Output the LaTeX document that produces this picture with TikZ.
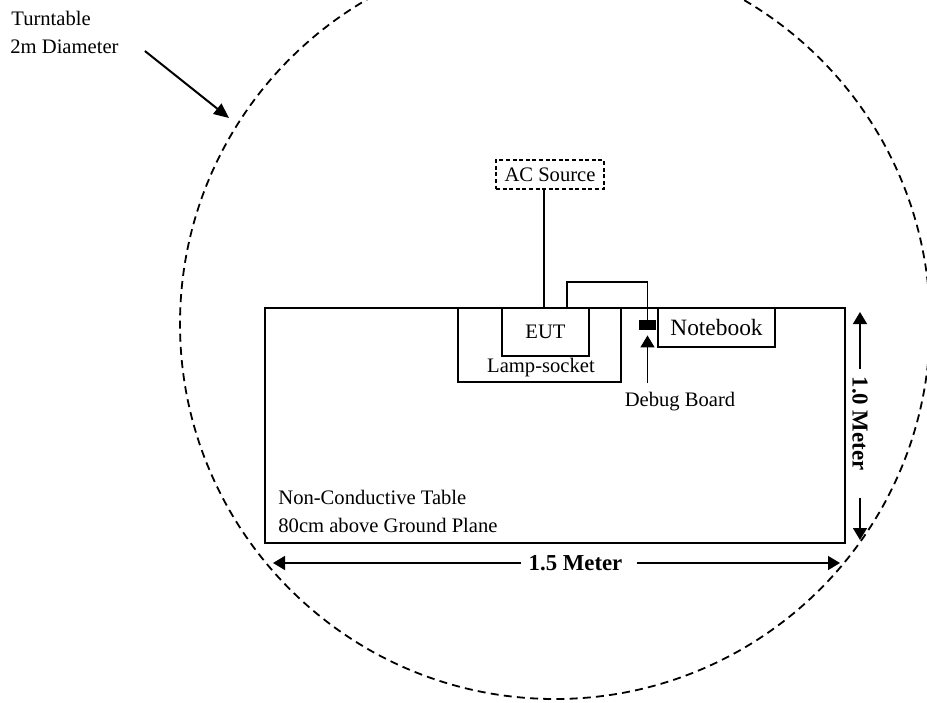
\documentclass[tikz,border=0pt]{standalone}
\usepackage{fontspec}
\setmainfont{Liberation Serif}
\usetikzlibrary{arrows.meta,positioning}
\tikzset{
  >={Triangle[length=6pt,width=7pt]},
  unit/.style={draw,line width=0.65pt,inner sep=0pt,font=\fontsize{10.3}{12}\selectfont},
  tag/.style={inner sep=0pt,font=\fontsize{10.3}{14}\selectfont},
  wire/.style={line width=0.65pt},
  dimline/.style={->,line width=0.75pt},
  dimtag/.style={inner sep=0pt,inner xsep=3.5pt,font=\fontsize{11.4}{13}\selectfont\bfseries},
  rim/.style={line width=0.9pt,dash pattern=on 4pt off 2.6pt},
}

\begin{document}
\begin{tikzpicture}[x=0.5pt,y=-0.5pt]
  \useasboundingbox (0,0) rectangle (927,702);
  \clip (0,0) rectangle (927,702);
  % turntable
  \draw[rim] (555,324) circle[radius=187.5pt];
  \node[tag,anchor=west] (turn) at (11,18) {Turntable};
  \node[tag,anchor=west] (diam) at (10,47) {2m Diameter};
  \coordinate (rimpt) at (229,118);
  \draw[->,line width=1pt,>={Triangle[length=7.5pt,width=6.5pt]}] ([xshift=13pt,yshift=-2pt]diam.east) -- (rimpt);
  % table and setup
  \node[unit,line width=1.3pt,minimum width=290pt,minimum height=117.5pt] (table) at (555,425.5) {};
  \node[tag,align=left,anchor=west] (tablelbl) at (278,511) {Non-Conductive Table\\80cm above Ground Plane};
  \node[unit,minimum width=81.5pt,minimum height=37pt] (socket) at (539.5,345) {};
  \node[tag] (socketlbl) at (541,368) {Lamp-socket};
  \node[unit,minimum width=43.5pt,minimum height=24pt] (eut) at (545.5,332) {EUT};
  \node[unit,dash pattern=on 2pt off 1.3pt,minimum width=54pt,minimum height=14.5pt] (ac) at (550,174.5) {AC Source};
  \node[unit,minimum width=58.5pt,minimum height=19.5pt,font=\fontsize{11.7}{14}\selectfont] (nb) at (716.5,327.5) {Notebook};
  \node[fill,inner sep=0pt,minimum width=8.5pt,minimum height=5pt] (plug) at (647.5,325) {};
  \node[tag] (debuglbl) at (680,402) {Debug Board};
  % wiring
  \draw[wire] ([xshift=-3pt]ac.south) -- ([xshift=-3pt]ac.south |- eut.north);
  \coordinate (loop) at (567,282);
  \draw[wire] (loop |- eut.north) -- (loop) -| (plug.north);
  \coordinate (tail) at (648,383);
  \draw[wire,->,shorten >=2.5pt] (plug.south |- tail) -- (plug.south);
  % dimensions
  \coordinate (wl) at (273,563);
  \coordinate (wr) at (840,563);
  \node[dimtag] (wlen) at (575.5,563) {1.5 Meter};
  \draw[dimline] (wlen) -- (wl);
  \draw[dimline,shorten <=3.5pt] (wlen) -- (wr);
  \coordinate (ht) at (860,312);
  \coordinate (hb) at (860,540);
  \node[dimtag,rotate=-90] (hlen) at (860,423.5) {1.0 Meter};
  \draw[dimline] (hlen) -- (ht);
  \draw[dimline,shorten <=10pt] (hlen) -- (hb);
\end{tikzpicture}
\end{document}
